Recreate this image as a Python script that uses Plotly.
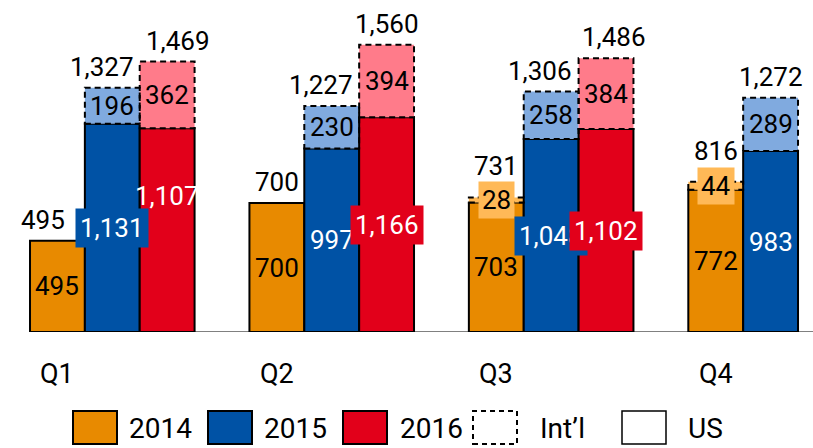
import plotly.graph_objects as go

# data
quarters = ["Q1", "Q2", "Q3", "Q4"]
years = ["2014", "2015", "2016"]

us_2014 = [495, 700, 703, 772]
intl_2014 = [0, 0, 28, 44]
us_2015 = [1131, 997, 1048, 983]
intl_2015 = [196, 230, 258, 289]
us_2016 = [1107, 1166, 1102]
intl_2016 = [362, 394, 384]

us_all = [us_2014, us_2015, us_2016]
intl_all = [intl_2014, intl_2015, intl_2016]

# styles
dark = ["#E88A00", "#0052A5", "#E2001A"]
light = ["#FFB957", "#80AADF", "#FF7B8A"]
us_text = ["black", "white", "white"]
us_box = [[False] * 4, [True, False, True, False], [False, True, True]]
us_yshift = [[0] * 4, [0] * 4, [34, 0, 0]]
tot_xshift = [[-14, 0, 0, 0], [-10, -11, -11, 0], [11, 0, 8]]
tot_yshift = [[4, 4, 14, 14], [4] * 4, [4] * 3]

FONT = "Roboto, DejaVu Sans Condensed, sans-serif"
SIZE = 26

fig = go.Figure()
shapes = []
annots = []


def fmt(v):
    return "{:,}".format(v)


for j, yr in enumerate(years):
    us = us_all[j]
    intl = intl_all[j]
    xs = [q * 4 + j for q in range(len(us))]
    fig.add_trace(go.Bar(x=xs, y=us, width=1, name=yr + " US",
                         marker=dict(color=dark[j], line=dict(color="black", width=2))))
    fig.add_trace(go.Bar(x=xs, y=intl, base=us, width=1, name=yr + " Int'l",
                         marker=dict(color=light[j], line=dict(width=0))))
    for i, x in enumerate(xs):
        tot = us[i] + intl[i]
        if intl[i] > 0:
            shapes.append(dict(type="rect", xref="x", yref="y", x0=x - 0.5, x1=x + 0.5,
                               y0=us[i], y1=tot, layer="above",
                               line=dict(color="black", width=2, dash="6px,4px")))
            annots.append(dict(x=x, y=us[i] + intl[i] / 2, text=fmt(intl[i]), showarrow=False,
                               font=dict(color="black", size=SIZE, family=FONT),
                               bgcolor=light[j] if j == 0 else None, borderpad=3))
        annots.append(dict(x=x, y=us[i] / 2, text=fmt(us[i]), showarrow=False,
                           yshift=us_yshift[j][i],
                           font=dict(color=us_text[j], size=SIZE, family=FONT),
                           bgcolor=dark[j] if us_box[j][i] else None, borderpad=4))
        annots.append(dict(x=x, y=tot, text=fmt(tot), showarrow=False, yanchor="bottom",
                           yshift=tot_yshift[j][i], xshift=tot_xshift[j][i],
                           font=dict(color="black", size=SIZE, family=FONT)))

for q, name in enumerate(quarters):
    annots.append(dict(x=q * 4, y=0, yref="y", text=name, showarrow=False,
                       yanchor="middle", yshift=-42,
                       font=dict(color="black", size=27, family=FONT)))

# baseline
shapes.insert(0, dict(type="line", xref="x", yref="y", x0=-0.5, x1=13.8, y0=0, y1=0,
                      layer="below", line=dict(color="#808080", width=2)))

# legend built by hand
W, H = 813, 448
PB = 332
leg_names = ["2014", "2015", "2016", "Int\u2019l", "US"]
leg_fill = dark + ["white", "white"]
leg_dash = ["solid"] * 3 + ["5px,4px", "solid"]
leg_box_x = [73, 208, 343, 473, 622]
leg_text_x = [127, 262, 398, 538, 686]
for k, nm in enumerate(leg_names):
    shapes.append(dict(type="rect", xref="paper", yref="paper",
                       x0=leg_box_x[k] / W, x1=(leg_box_x[k] + 44) / W,
                       y0=(PB - 444) / PB, y1=(PB - 411) / PB,
                       fillcolor=leg_fill[k],
                       line=dict(color="black", width=2 if k < 4 else 1.5, dash=leg_dash[k])))
    annots.append(dict(x=leg_text_x[k] / W, y=(PB - 428) / PB, xref="paper", yref="paper",
                       xanchor="left", yanchor="middle", text=nm, showarrow=False,
                       font=dict(color="black", size=28, family=FONT)))

fig.update_layout(
    width=W, height=H,
    margin=dict(l=0, r=0, t=0, b=H - PB),
    paper_bgcolor="white", plot_bgcolor="white",
    barmode="overlay", showlegend=False,
    xaxis=dict(range=[-1.047, 13.773], visible=False, fixedrange=True),
    yaxis=dict(range=[0, 1803], visible=False, fixedrange=True),
    shapes=shapes, annotations=annots,
)

fig.write_html("out.html", config={"displayModeBar": False},
               post_script="document.body.style.margin='0';")
